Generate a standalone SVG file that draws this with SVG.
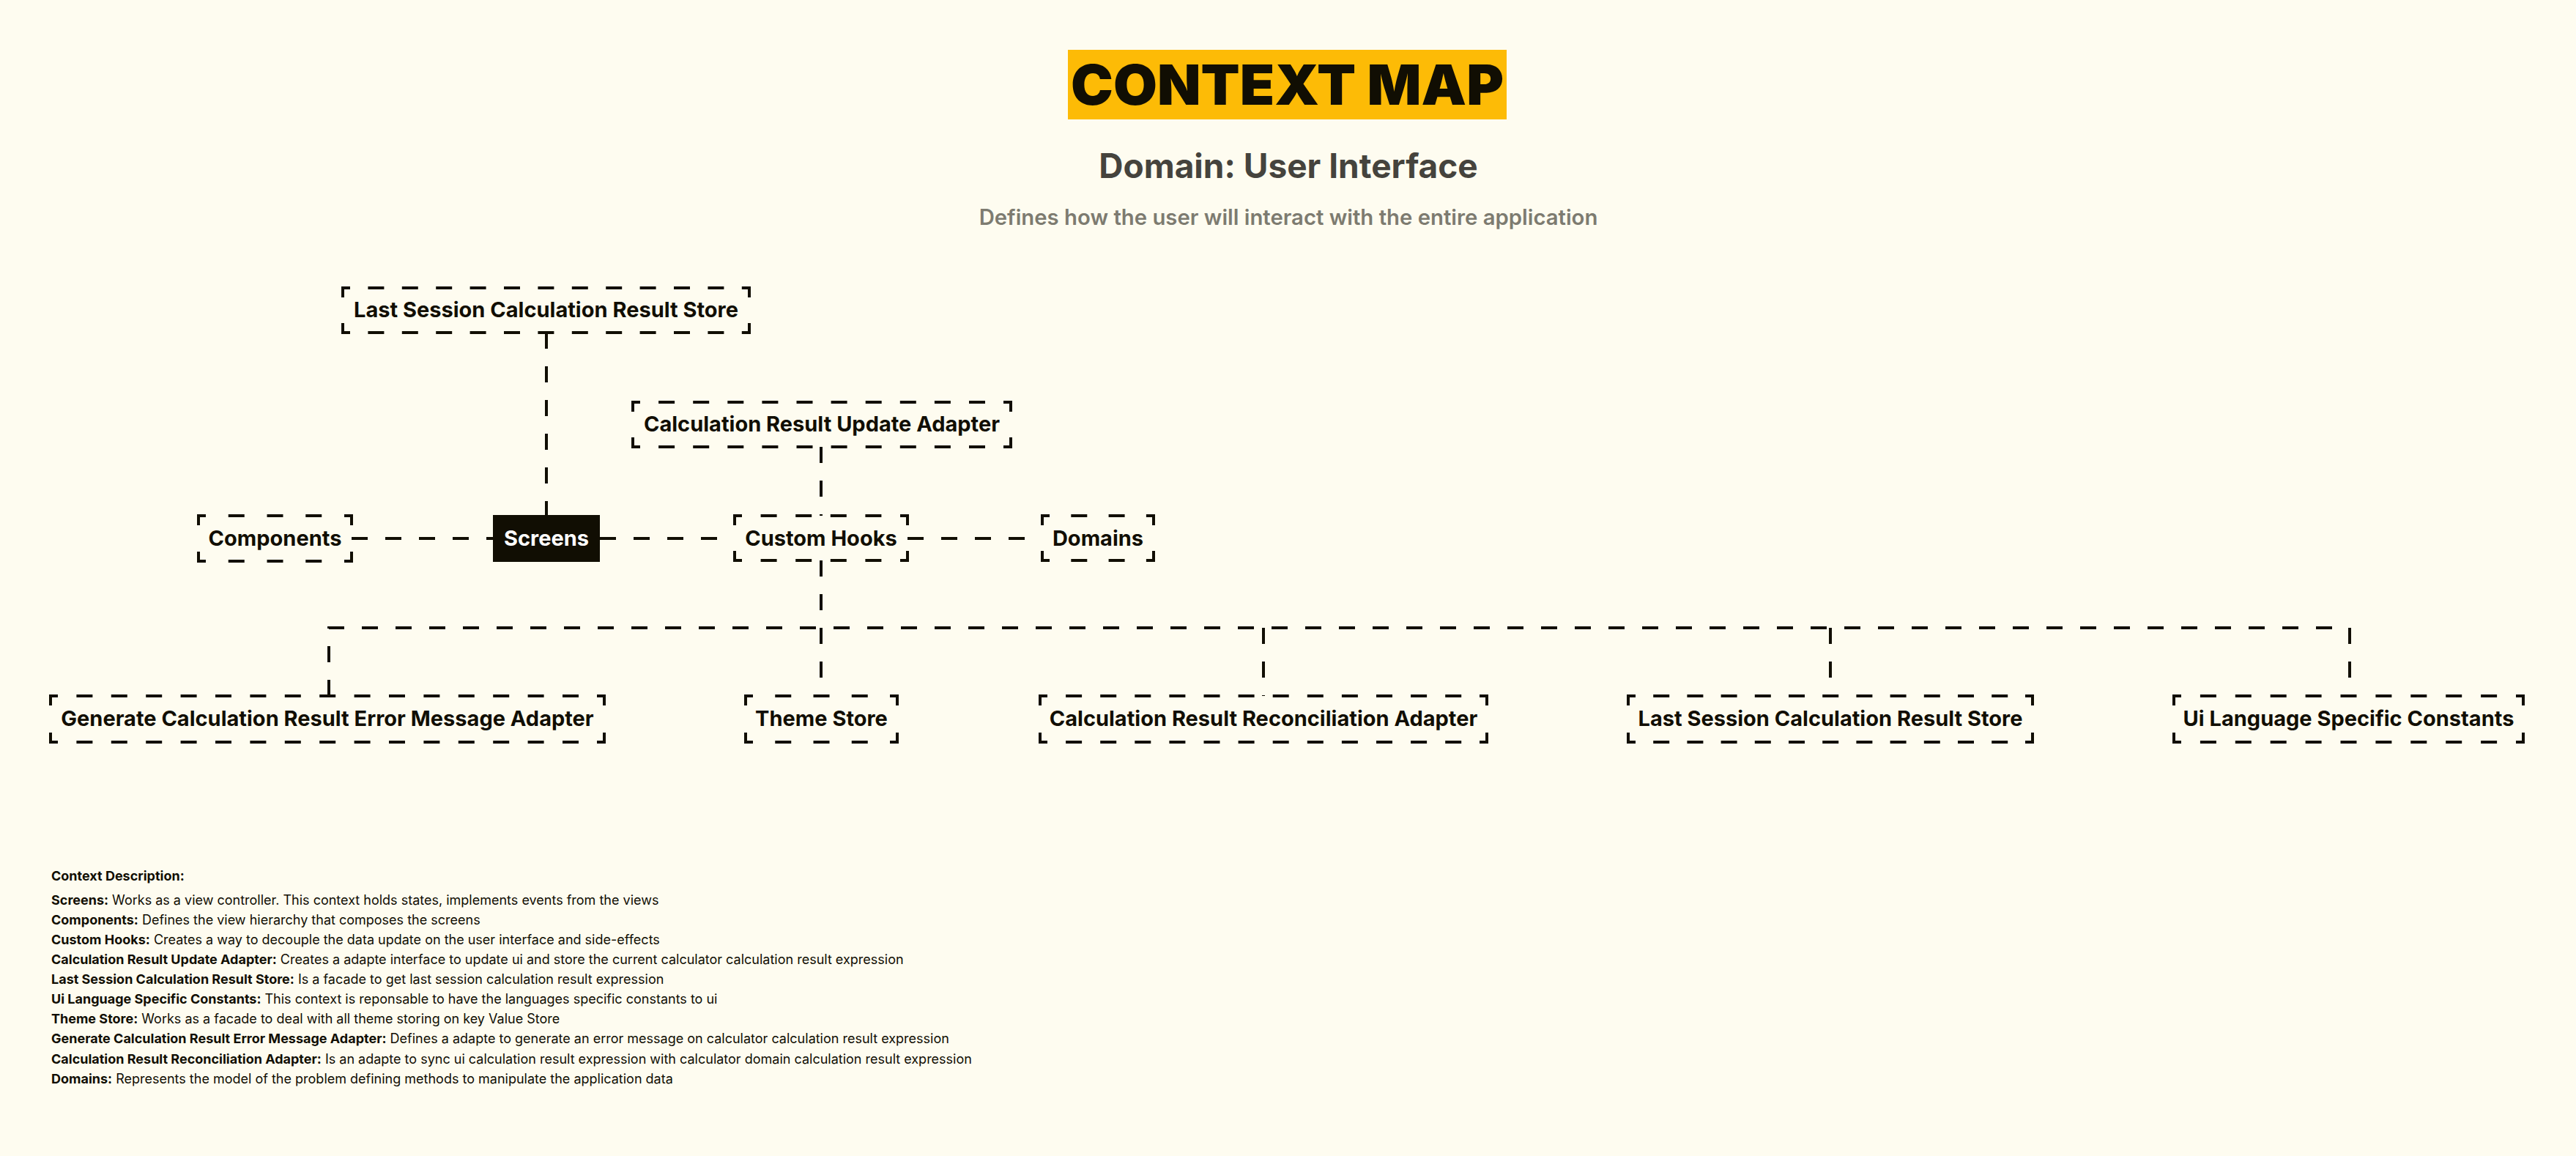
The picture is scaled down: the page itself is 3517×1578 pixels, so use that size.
<svg xmlns="http://www.w3.org/2000/svg" width="3517" height="1578" viewBox="0 0 3517 1578">
<style>
.bg{fill:#FEFCF0}
.corner{fill:none;stroke:#110e03;stroke-width:4;stroke-linejoin:miter}
.side{fill:none;stroke:#110e03;stroke-width:4;stroke-dashoffset:22}
.lbl{font-family:Inter,"Liberation Sans",sans-serif;font-weight:700;font-size:29px;fill:#110e03;text-anchor:middle}
.conn{fill:none;stroke:#110e03;stroke-width:4;stroke-dasharray:22 24}
.desc{font-family:Inter,"Liberation Sans",sans-serif;font-size:18px;fill:#110e03}
.desc tspan.b{font-weight:700}
</style>
<rect class="bg" x="0" y="0" width="3517" height="1578"/>
<g id="header">
<rect x="1458" y="68" width="599" height="95" fill="#FDBB06"/>
<text x="1462" y="143" font-family="Inter,'Liberation Sans',sans-serif" font-weight="900" font-size="76" fill="#110e03" textLength="591" lengthAdjust="spacingAndGlyphs">CONTEXT MAP</text>
<text x="1759" y="243" font-family="Inter,'Liberation Sans',sans-serif" font-weight="700" font-size="46" fill="#45433d" text-anchor="middle">Domain: User Interface</text>
<text x="1759" y="307" font-family="Inter,'Liberation Sans',sans-serif" font-weight="600" font-size="29.3" fill="#7d7b70" text-anchor="middle">Defines how the user will interact with the entire application</text>
</g>
<g id="connectors">
<path class="conn" d="M746 454 V703"/>
<path class="conn" d="M1121 610 V704"/>
<path class="conn" d="M480 735 H673"/>
<path class="conn" d="M819 735 H1003"/>
<path class="conn" d="M1239 735 H1423"/>
<path class="conn" d="M1121 765 V950"/>
<path class="conn" d="M449 950 V857 H3208 V950"/>
<path class="conn" d="M1725 857 V950"/>
<path class="conn" d="M2499 857 V950"/>
</g>
<g id="node-last-session-top">
<path class="corner" d="M468,406 V393 H478 M1013,393 H1023 V406 M468,441 V454 H478 M1013,454 H1023 V441"/>
<path class="side" stroke-dasharray="22 24.4" d="M478,393 H1013 M478,454 H1013"/>
<text class="lbl" x="745.5" y="433">Last Session Calculation Result Store</text>
</g>
<g id="node-calc-update-adapter">
<path class="corner" d="M864,562 V549 H874 M1370,549 H1380 V562 M864,597 V610 H874 M1370,610 H1380 V597"/>
<path class="side" stroke-dasharray="22 25.1" d="M874,549 H1370 M874,610 H1370"/>
<text class="lbl" x="1122" y="589">Calculation Result Update Adapter</text>
</g>
<g id="node-components">
<path class="corner" d="M271,717 V704 H281 M470,704 H480 V717 M271,753 V766 H281 M470,766 H480 V753"/>
<path class="side" stroke-dasharray="22 30.75" d="M281,704 H470 M281,766 H470"/>
<text class="lbl" x="375.5" y="745">Components</text>
</g>
<g id="node-screens">
<rect x="673" y="703" width="146" height="64" fill="#110e03"/>
<text class="lbl" x="746" y="745" style="fill:#ffffff">Screens</text>
</g>
<g id="node-custom-hooks">
<path class="corner" d="M1003,717 V704 H1013 M1229,704 H1239 V717 M1003,752 V765 H1013 M1229,765 H1239 V752"/>
<path class="side" stroke-dasharray="22 25.6" d="M1013,704 H1229 M1013,765 H1229"/>
<text class="lbl" x="1121" y="745">Custom Hooks</text>
</g>
<g id="node-domains">
<path class="corner" d="M1423,717 V704 H1433 M1565,704 H1575 V717 M1423,752 V765 H1433 M1565,765 H1575 V752"/>
<path class="side" stroke-dasharray="22 29.3" d="M1433,704 H1565 M1433,765 H1565"/>
<text class="lbl" x="1499" y="745">Domains</text>
</g>
<g id="node-generate-error">
<path class="corner" d="M69,963 V950 H79 M815,950 H825 V963 M69,1000 V1013 H79 M815,1013 H825 V1000"/>
<path class="side" stroke-dasharray="22 25.4" d="M79,950 H815 M79,1013 H815"/>
<text class="lbl" x="447" y="991">Generate Calculation Result Error Message Adapter</text>
</g>
<g id="node-theme-store">
<path class="corner" d="M1018,963 V950 H1028 M1215,950 H1225 V963 M1018,1000 V1013 H1028 M1215,1013 H1225 V1000"/>
<path class="side" stroke-dasharray="22 30.25" d="M1028,950 H1215 M1028,1013 H1215"/>
<text class="lbl" x="1121.5" y="991">Theme Store</text>
</g>
<g id="node-reconciliation">
<path class="corner" d="M1420,963 V950 H1430 M2020,950 H2030 V963 M1420,1000 V1013 H1430 M2020,1013 H2030 V1000"/>
<path class="side" stroke-dasharray="22 25.1" d="M1430,950 H2020 M1430,1013 H2020"/>
<text class="lbl" x="1725" y="991">Calculation Result Reconciliation Adapter</text>
</g>
<g id="node-last-session-bottom">
<path class="corner" d="M2223,963 V950 H2233 M2765,950 H2775 V963 M2223,1000 V1013 H2233 M2765,1013 H2775 V1000"/>
<path class="side" stroke-dasharray="22 24.2" d="M2233,950 H2765 M2233,1013 H2765"/>
<text class="lbl" x="2499" y="991">Last Session Calculation Result Store</text>
</g>
<g id="node-ui-language">
<path class="corner" d="M2968,963 V950 H2978 M3435,950 H3445 V963 M2968,1000 V1013 H2978 M3435,1013 H3445 V1000"/>
<path class="side" stroke-dasharray="22 25.9" d="M2978,950 H3435 M2978,1013 H3435"/>
<text class="lbl" x="3206.5" y="991">Ui Language Specific Constants</text>
</g>
<g id="description">
<text class="desc" x="70" y="1202"><tspan class="b">Context Description:</tspan></text>
<text class="desc" x="70" y="1235"><tspan class="b">Screens:</tspan> Works as a view controller. This context holds states, implements events from the views</text>
<text class="desc" x="70" y="1262"><tspan class="b">Components:</tspan> Defines the view hierarchy that composes the screens</text>
<text class="desc" x="70" y="1289"><tspan class="b">Custom Hooks:</tspan> Creates a way to decouple the data update on the user interface and side-effects</text>
<text class="desc" x="70" y="1316"><tspan class="b">Calculation Result Update Adapter:</tspan> Creates a adapte interface to update ui and store the current calculator calculation result expression</text>
<text class="desc" x="70" y="1343"><tspan class="b">Last Session Calculation Result Store:</tspan> Is a facade to get last session calculation result expression</text>
<text class="desc" x="70" y="1370"><tspan class="b">Ui Language Specific Constants:</tspan> This context is reponsable to have the languages specific constants to ui</text>
<text class="desc" x="70" y="1397"><tspan class="b">Theme Store:</tspan> Works as a facade to deal with all theme storing on key Value Store</text>
<text class="desc" x="70" y="1424"><tspan class="b">Generate Calculation Result Error Message Adapter:</tspan> Defines a adapte to generate an error message on calculator calculation result expression</text>
<text class="desc" x="70" y="1452"><tspan class="b">Calculation Result Reconciliation Adapter:</tspan> Is an adapte to sync ui calculation result expression with calculator domain calculation result expression</text>
<text class="desc" x="70" y="1479"><tspan class="b">Domains:</tspan> Represents the model of the problem defining methods to manipulate the application data</text>
</g>
</svg>
